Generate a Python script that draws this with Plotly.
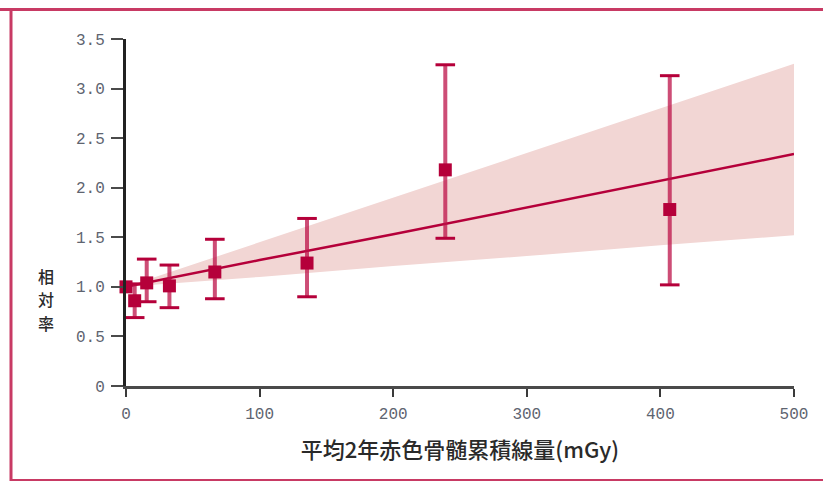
import plotly.graph_objects as go

# Dose groups: mean 2-year cumulative red bone marrow dose (mGy) and relative risk
dose = [0, 6.5, 15.5, 32.5, 66.5, 135.5, 239, 407]
rr = [1.0, 0.86, 1.04, 1.01, 1.15, 1.24, 2.18, 1.78]
ci_low = [None, 0.69, 0.85, 0.79, 0.88, 0.90, 1.49, 1.02]
ci_high = [None, 1.03, 1.28, 1.22, 1.48, 1.69, 3.24, 3.13]

# Fitted linear dose-response with its confidence band
fit_dose = [0, 100, 200, 300, 400, 500]
fit_rr = [1.0, 1.27, 1.53, 1.80, 2.07, 2.34]
band_upper = [1.0, 1.45, 1.90, 2.35, 2.80, 3.25]
band_lower = [1.0, 1.10, 1.21, 1.31, 1.42, 1.52]

# Axis ticks
y_ticks = [0, 0.5, 1.0, 1.5, 2.0, 2.5, 3.0, 3.5]
y_tick_text = ["0", "0.5", "1.0", "1.5", "2.0", "2.5", "3.0", "3.5"]
x_ticks = [0, 100, 200, 300, 400, 500]

y_title_chars = ["相", "対", "率"]

CRIMSON = "#b5003a"
BAND = "#f2d6d4"
FRAME = "#c83a64"

W, H = 823, 481
L, R, T, B = 126, 29, 39, 95
PW, PH = W - L - R, H - T - B


def px_x(x):
    return (x - L) / PW


def px_y(y):
    return (H - B - y) / PH


fig = go.Figure()

# Confidence band
fig.add_trace(go.Scatter(x=fit_dose, y=band_upper, mode="lines",
                         line=dict(width=0), hoverinfo="skip", showlegend=False))
fig.add_trace(go.Scatter(x=fit_dose, y=band_lower, mode="lines",
                         line=dict(width=0), fill="tonexty", fillcolor=BAND,
                         hoverinfo="skip", showlegend=False))

# Fitted line
fig.add_trace(go.Scatter(x=fit_dose, y=fit_rr, mode="lines",
                         line=dict(color=CRIMSON, width=2.5), showlegend=False))

# Error bar stems
err_plus = [None if h is None else h - v for h, v in zip(ci_high, rr)]
err_minus = [None if l is None else v - l for l, v in zip(ci_low, rr)]
fig.add_trace(go.Scatter(
    x=dose, y=rr, mode="markers", marker=dict(size=1, opacity=0),
    error_y=dict(type="data", array=err_plus, arrayminus=err_minus,
                 symmetric=False, width=0, thickness=4,
                 color="rgba(188,18,72,0.75)"),
    showlegend=False, hoverinfo="skip"))

# Error bar caps
cap_x = [d for d, h in zip(dose, ci_high) if h is not None] * 2
cap_y = [h for h in ci_high if h is not None] + [l for l in ci_low if l is not None]
fig.add_trace(go.Scatter(
    x=cap_x, y=cap_y, mode="markers", cliponaxis=False,
    marker=dict(symbol="line-ew", size=14, line=dict(color=CRIMSON, width=3)),
    showlegend=False, hoverinfo="skip"))

# Point estimates
fig.add_trace(go.Scatter(
    x=dose, y=rr, mode="markers", cliponaxis=False,
    marker=dict(symbol="square", size=13, color=CRIMSON, line=dict(width=0)),
    showlegend=False))

tick_font = dict(family="Liberation Mono, DejaVu Sans Mono, monospace",
                 size=16, color="#5e6470")

# Vertical y-axis title, one character per row
annotations = [
    dict(text=ch, xref="paper", yref="paper",
         x=px_x(46), y=px_y(275.5 + 23.5 * i), showarrow=False,
         xanchor="center", yanchor="middle",
         font=dict(family="Noto Sans CJK JP", size=16, color="#2a2a2a", weight=500))
    for i, ch in enumerate(y_title_chars)
]

fig.update_layout(
    width=W, height=H,
    margin=dict(l=L, r=R, t=T, b=B),
    paper_bgcolor="white", plot_bgcolor="white",
    xaxis=dict(range=[0, 500], tickvals=x_ticks, ticks="outside", ticklen=8,
               tickwidth=2, tickcolor="#3a3a3a", showline=True, linewidth=2.5,
               linecolor="#4a4a4a", showgrid=False, zeroline=False,
               tickfont=tick_font, ticklabelstandoff=3,
               title=dict(text="平均2年赤色骨髄累積線量(mGy)", standoff=20,
                          font=dict(family="Noto Sans CJK JP", size=22,
                                    color="#2a2a2a", weight=500))),
    yaxis=dict(range=[0, 3.5], tickvals=y_ticks, ticktext=y_tick_text,
               ticks="outside", ticklen=12, tickwidth=2, tickcolor="#4a4a4a",
               showline=True, linewidth=3, linecolor="#222222",
               showgrid=False, zeroline=False, tickfont=tick_font,
               ticklabelstandoff=3),
    annotations=annotations,
    shapes=[
        # outer frame: top, left and bottom rules
        dict(type="line", xref="paper", yref="paper",
             x0=px_x(0), x1=px_x(W), y0=px_y(9.5), y1=px_y(9.5),
             line=dict(color=FRAME, width=3)),
        dict(type="line", xref="paper", yref="paper",
             x0=px_x(11), x1=px_x(11), y0=px_y(8), y1=px_y(481),
             line=dict(color=FRAME, width=3)),
        dict(type="line", xref="paper", yref="paper",
             x0=px_x(10), x1=px_x(W), y0=px_y(480), y1=px_y(480),
             line=dict(color=FRAME, width=2)),
    ],
)

fig.write_html("out.html")
